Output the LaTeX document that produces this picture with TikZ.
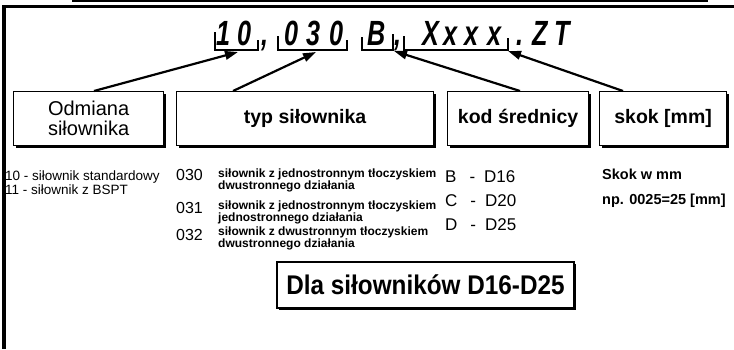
\documentclass[tikz,border=0pt]{standalone}
\usepackage{fontspec}
\setmainfont{Liberation Sans}
\usetikzlibrary{arrows.meta,shadows}
\newcommand\cnar[1]{\scalebox{0.72}[1]{#1}}
\begin{document}
\begin{tikzpicture}[x=1pt,y=-1pt,
  frameline/.style={line width=3.5pt},
  thinline/.style={line width=1.5pt},
  bracket/.style={line width=2.6pt},
  arr/.style={line width=2.2pt,-{Triangle[length=13pt,width=8.5pt]}},
  boxs/.style={draw,line width=1.2pt,fill=white,
    drop shadow={shadow xshift=2.4pt,shadow yshift=-2.4pt,fill=black,opacity=1},
    inner sep=0pt,anchor=north west,align=center},
  codech/.style={font=\fontsize{35}{35}\selectfont\bfseries\itshape,anchor=base,inner sep=0pt},
  boxtxt/.style={font=\fontsize{19.5}{21}\selectfont\bfseries},
  smalltxt/.style={font=\fontsize{13.5}{14}\selectfont,anchor=base west,inner sep=0pt},
  numtxt/.style={font=\fontsize{16}{16}\selectfont,anchor=base east,inner sep=0pt},
  desctxt/.style={font=\fontsize{12}{10}\selectfont\bfseries,anchor=north west,inner sep=0pt,align=left},
  diatxt/.style={font=\fontsize{17}{17}\selectfont,anchor=base west,inner sep=0pt},
  skoktxt/.style={font=\fontsize{14.5}{15}\selectfont\bfseries,anchor=base west,inner sep=0pt}
]
\useasboundingbox (0,0) rectangle (734,349);

% frame
\draw[thinline] (72,0.8) -- (708,0.8);
\draw[frameline] (2.3,6.5) -- (734,6.5);
\draw[frameline] (4,6.5) -- (4,349);

% code characters
\node[codech] (c1) at (224,45) {\cnar{1}};
\node[codech] (c2) at (245,45) {\cnar{0}};
\node[codech] (c3) at (265,45) {\cnar{,}};
\node[codech] (c4) at (292,45) {\cnar{0}};
\node[codech] (c5) at (314,45) {\cnar{3}};
\node[codech] (c6) at (337,45) {\cnar{0}};
\node[codech] (c7) at (377,45) {\cnar{B}};
\node[codech] (c8) at (398,45) {\cnar{,}};
\node[codech] (c9) at (431,45) {\cnar{X}};
\node[codech] (c10) at (451,45) {\cnar{x}};
\node[codech] (c11) at (472,45) {\cnar{x}};
\node[codech] (c12) at (495,45) {\cnar{x}};
\node[codech] (c13) at (520,45) {\cnar{.}};
\node[codech] (c14) at (540,45) {\cnar{Z}};
\node[codech] (c15) at (562,45) {\cnar{T}};

% brackets
\draw[bracket] (215,32) -- (215,50) -- (258,50) -- (258,40);
\draw[bracket] (278,36) -- (278,50) -- (347,50) -- (347,40);
\draw[bracket] (362,37) -- (362,50) -- (393,50) -- (393,34);
\draw[bracket] (404,36) -- (404,50) -- (508,50) -- (508,38);
\coordinate (t1) at (238,52);
\coordinate (t2) at (316,52);
\coordinate (t3) at (394,51);
\coordinate (t4) at (508,51);

% boxes
\node[boxs,minimum width=150pt,minimum height=54pt,
  font=\fontsize{20}{21}\selectfont] (odm) at (13,91) {Odmiana\\[-1pt]siłownika};
\node[boxs,minimum width=257pt,minimum height=54pt,boxtxt] (typ) at (176,91) {typ siłownika};
\node[boxs,minimum width=141pt,minimum height=54pt,boxtxt] (kod) at (447,91) {kod średnicy};
\node[boxs,minimum width=127pt,minimum height=54pt,boxtxt] (skok) at (599,91) {skok [mm]};

\coordinate (s1) at (94,91);
\coordinate (s2) at (233,91);
\coordinate (s3) at (520,91);
\coordinate (s4) at (623,91);

\draw[arr] (s1) -- (t1);
\draw[arr] (s2) -- (t2);
\draw[arr] (s3) -- (t3);
\draw[arr] (s4) -- (t4);

% lower left text
\node[smalltxt] (v10) at (5,180) {10 - siłownik standardowy};
\node[smalltxt] (v11) at (5,194) {11 - siłownik z BSPT};

\node[numtxt] (n030) at (203,180) {030};
\node[numtxt] (n031) at (203,213) {031};
\node[numtxt] (n032) at (203,240) {032};

\node[desctxt] (d1) at (218,168.5) {siłownik z jednostronnym tłoczyskiem\\dwustronnego działania};
\node[desctxt] (d2) at (218,200.5) {siłownik z jednostronnym tłoczyskiem\\jednostronnego działania};
\node[desctxt] (d3) at (218,226.5) {siłownik z dwustronnym tłoczyskiem\\dwustronnego działania};

\node[diatxt] (dB) at (445,182) {B\hspace{13pt}-\hspace{9pt}D16};
\node[diatxt] (dC) at (445,206) {C\hspace{13pt}-\hspace{9pt}D20};
\node[diatxt] (dD) at (445,230) {D\hspace{13pt}-\hspace{9pt}D25};

\node[skoktxt] (sk1) at (602,179) {Skok w mm};
\node[skoktxt] (sk2) at (602,204) {np. 0025=25 [mm]};

% bottom box
\node[boxs,anchor=center,minimum width=297pt,minimum height=46pt,
  font=\fontsize{27}{27}\selectfont\bfseries] (dla) at (425.5,285) {\scalebox{0.9}[1]{Dla siłowników D16-D25}};
\end{tikzpicture}
\end{document}
